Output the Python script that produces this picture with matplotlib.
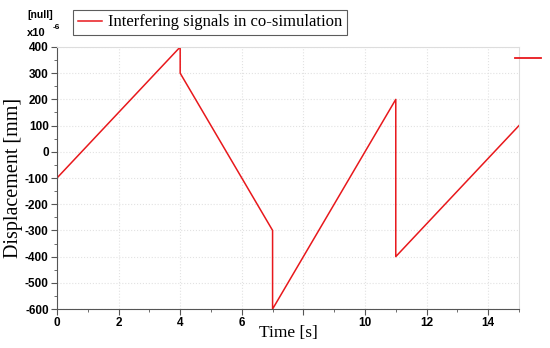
import matplotlib.pyplot as plt
from matplotlib.lines import Line2D

# Signal breakpoints (time in s, displacement x1e-6)
time_s = [0, 4, 4, 7, 7, 11, 11, 15]
displacement = [-100, 400, 300, -300, -600, 200, -400, 100]

x_ticks = [0, 2, 4, 6, 8, 10, 12, 14]
# "8" is hidden under the axis title in the reference
x_tick_labels = ['0', '2', '4', '6', '', '10', '12', '14']
y_ticks = [400, 300, 200, 100, 0, -100, -200, -300, -400, -500, -600]

RED = '#e8181c'
SANS = 'Liberation Sans'
TICK_FONT = dict(family=SANS, weight='bold', size=8.5)

fig = plt.figure(figsize=(5.5, 3.48), dpi=100)
ax = fig.add_axes([0.1036, 0.112, 0.84, 0.753])

ax.plot(time_s, displacement, color=RED, linewidth=1.1,
        label='Interfering signals in co-simulation')

ax.set_xlim(0, 15)
ax.set_ylim(-600, 400)
ax.set_xticks(x_ticks)
ax.set_xticks(range(0, 16), minor=True)
ax.set_yticks(y_ticks)
ax.set_yticks(range(-600, 401, 50), minor=True)
ax.set_xticklabels(x_tick_labels, fontdict=TICK_FONT)
ax.set_yticklabels([str(t) for t in y_ticks], fontdict=TICK_FONT)
ax.tick_params(which='major', length=4, color='#555555', pad=2)
ax.tick_params(which='minor', length=2, color='#555555')

ax.grid(True, which='major', color='#e2e2e2', linestyle=':', linewidth=0.8)
for side in ['top', 'right']:
    ax.spines[side].set_color('#dddddd')
for side in ['left', 'bottom']:
    ax.spines[side].set_color('#555555')

ax.set_xlabel('Time [s]', family='Liberation Serif', fontsize=12.5, labelpad=-3)
ax.set_ylabel('Displacement [mm]', family='Liberation Serif', fontsize=14.5,
              labelpad=1)

leg = fig.legend(loc='upper left', bbox_to_anchor=(0.133, 0.972), frameon=True,
                 fancybox=False, prop=dict(family='Liberation Serif', size=12),
                 handlelength=1.45, borderpad=0.28, handletextpad=0.35,
                 borderaxespad=0)
leg.get_frame().set_edgecolor('#333333')
leg.get_frame().set_linewidth(0.8)

fig.text(0.049, 0.958, '[null]', family=SANS, weight='bold', fontsize=7.5,
         va='center')
fig.text(0.049, 0.905, 'x10', family=SANS, weight='bold', fontsize=8,
         va='center')
fig.text(0.095, 0.922, '-6', family=SANS, weight='bold', fontsize=6,
         va='center')

# stray legend stub at the right edge
fig.add_artist(Line2D([0.937, 0.983], [0.833, 0.833], color=RED, linewidth=1.3,
                      transform=fig.transFigure))

fig.savefig('out.png', dpi=100)
